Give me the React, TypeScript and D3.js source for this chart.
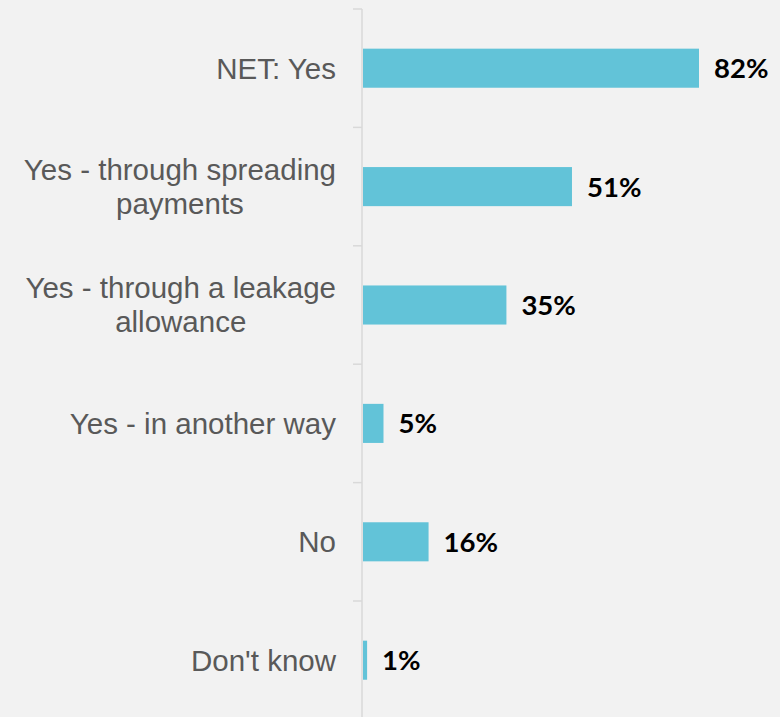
import React, { useLayoutEffect, useRef, useState } from "react";
import * as d3 from "d3";

const categories = [
  "NET: Yes",
  "Yes - through spreading payments",
  "Yes - through a leakage allowance",
  "Yes - in another way",
  "No",
  "Don't know",
];
const labelLines = [
  ["NET: Yes"],
  ["Yes - through spreading", "payments"],
  ["Yes - through a leakage", "allowance"],
  ["Yes - in another way"],
  ["No"],
  ["Don't know"],
];
const values = [82, 51, 35, 5, 16, 1];

const W = 780;
const H = 717;
const axisX = 362;
const top = 9;
const step = 118.4;
const labelRight = 336;

export default function App() {
  const firstRefs = useRef<(SVGTextElement | null)[]>([]);
  const [widths, setWidths] = useState<number[]>([]);
  useLayoutEffect(() => {
    setWidths(firstRefs.current.map((t) => (t ? t.getComputedTextLength() : 0)));
  }, []);

  const y = d3
    .scaleBand<string>()
    .domain(categories)
    .range([top, top + step * categories.length])
    .paddingInner(0.67)
    .paddingOuter(0.335);
  const x = d3.scaleLinear().domain([0, 82]).range([axisX + 1, 699]);
  const fontLabel = "'Liberation Sans', Arial, sans-serif";
  const fontVal = "Lato, 'Open Sans', sans-serif";
  return (
    <svg
      width={W}
      height={H}
      style={{ position: "absolute", left: 0, top: 0, background: "#f2f2f2" }}
    >
      <rect x={0} y={0} width={W} height={H} fill="#f2f2f2" />
      {categories.map((c, i) => {
        const y0 = top + step * i;
        return (
          <line
            key={"t" + i}
            x1={353}
            x2={axisX}
            y1={y0}
            y2={y0}
            stroke="#d9d9d9"
            strokeWidth={1.5}
          />
        );
      })}
      <line x1={axisX} x2={axisX} y1={top} y2={H} stroke="#d9d9d9" strokeWidth={1.5} />
      {categories.map((c, i) => {
        const by = y(c)!;
        const bh = y.bandwidth();
        const cy = by + bh / 2;
        const lines = labelLines[i];
        const lh = 34;
        const startY = cy - ((lines.length - 1) * lh) / 2;
        const w0 = widths[i] ?? 0;
        const centerX = labelRight - w0 / 2;
        return (
          <g key={c}>
            <rect x={x(0)} y={by} width={x(values[i]) - x(0)} height={bh} fill="#62c3d8" />
            <text
              x={x(values[i]) + 15}
              y={cy}
              dy="0.36em"
              fontFamily={fontVal}
              fontWeight="bold"
              fontSize={27.5}
              fill="#000"
            >
              {values[i]}%
            </text>
            {lines.map((l, j) => (
              <text
                key={j}
                ref={j === 0 ? (el) => { firstRefs.current[i] = el; } : undefined}
                x={j === 0 ? labelRight : centerX}
                y={startY + j * lh}
                dy="0.35em"
                textAnchor={j === 0 ? "end" : "middle"}
                fontFamily={fontLabel}
                fontSize={29.5}
                fill="#595959"
              >
                {l}
              </text>
            ))}
          </g>
        );
      })}
    </svg>
  );
}
